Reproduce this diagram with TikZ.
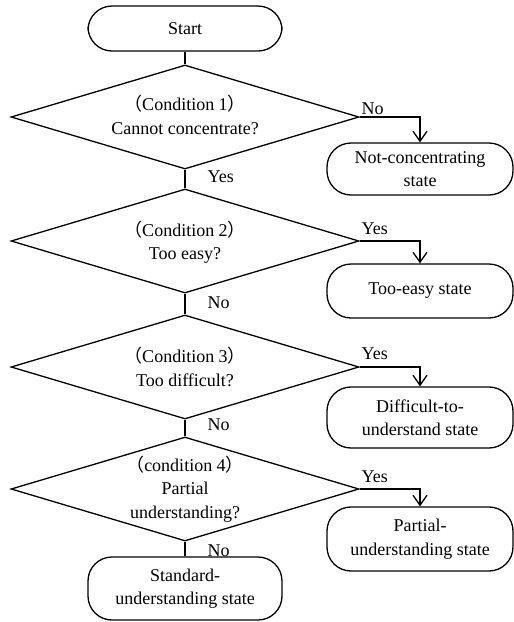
\documentclass[tikz,border=0pt]{standalone}
\usepackage{fontspec}
\setmainfont{Liberation Serif}
\newfontfamily\cjk{Noto Sans CJK SC}
\usetikzlibrary{shapes.geometric,arrows.meta}
\begin{document}
\begin{tikzpicture}[x=1pt,y=-1pt,line width=1.3pt,
  every node/.style={font=\fontsize{18}{23.5}\selectfont},
  term/.style={draw,rounded corners=24pt,align=center,inner sep=0pt},
  dia/.style={draw,diamond,aspect=3.35,inner sep=0pt,minimum width=348pt,minimum height=104pt},
  lab/.style={inner sep=0pt,anchor=base west},
  arr/.style={-{Straight Barb[length=10pt,width=14pt,line width=1.3pt]}},
  txt/.style={align=center,inner sep=0pt}]
\useasboundingbox (0,0) rectangle (514,622);
\node[term,minimum width=194pt,minimum height=45pt] (start) at (185,28.5) {Start};
\node[dia] (d1) at (185,117) {};
\node[txt] (t1) at (185,115) {{\cjk（}Condition 1{\cjk）}\\Cannot concentrate?};
\node[dia] (d2) at (185,241) {};
\node[txt] (t2) at (185,242) {{\cjk（}Condition 2{\cjk）}\\Too easy?};
\node[dia] (d3) at (185,367) {};
\node[txt] (t3) at (185,367) {{\cjk（}Condition 3{\cjk）}\\Too difficult?};
\node[dia] (d4) at (185,489) {};
\node[txt] (t4) at (185,489) {{\cjk（}condition 4{\cjk）}\\Partial\\understanding?};
\node[term,minimum width=186pt,minimum height=52pt] (s1) at (420,169) {Not-concentrating\\state};
\node[term,minimum width=186pt,minimum height=54pt] (s2) at (420,291) {Too-easy state};
\node[term,minimum width=186pt,minimum height=61pt] (s3) at (420,417.5) {Difficult-to-\\understand state};
\node[term,minimum width=186pt,minimum height=64pt] (s4) at (420,539) {Partial-\\understanding state};
\node[term,minimum width=194pt,minimum height=63pt] (s5) at (185,588.5) {Standard-\\understanding state};
\draw (start) -- (d1.north);
\draw (d1.south) -- (d2.north);
\draw (d2.south) -- (d3.north);
\draw (d3.south) -- (d4.north);
\draw (d4.south) -- (s5.north);
\draw[arr] (d1.east) -| (s1.north);
\draw[arr] (d2.east) -| (s2.north);
\draw[arr] (d3.east) -| (s3.north);
\draw[arr] (d4.east) -| (s4.north);
\node[lab] (l1) at (361,114) {No};
\node[lab] (l2) at (207,182) {Yes};
\node[lab] (l3) at (361,234) {Yes};
\node[lab] (l4) at (207,308) {No};
\node[lab] (l5) at (361,359) {Yes};
\node[lab] (l6) at (207,430) {No};
\node[lab] (l7) at (361,482) {Yes};
\node[lab] (l8) at (207,556) {No};
\end{tikzpicture}
\end{document}
